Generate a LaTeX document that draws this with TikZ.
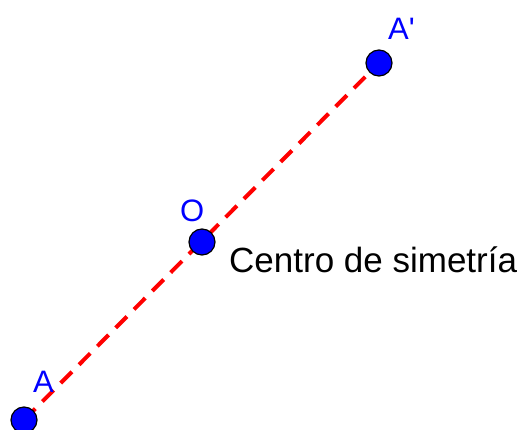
\documentclass[tikz,border=0pt]{standalone}
\usepackage{fontspec}
\setmainfont{Liberation Sans}
\usetikzlibrary{positioning}

\begin{document}
\begin{tikzpicture}[
    x=1pt, y=1pt,
    pt/.style={draw=black, line width=1.2pt, circle, fill=blue, minimum size=26pt, inner sep=0pt},
    lab/.style={anchor=base west, inner sep=0pt, text=blue, font=\fontsize{31}{31}\selectfont},
    seg/.style={red, line width=4pt, dash pattern=on 16pt off 10pt}
]
\useasboundingbox (0,0) rectangle (517,429);
\clip (0,0) rectangle (517,429);
\coordinate (a) at (24,9);
\coordinate (o) at (202,187);
\coordinate (ap) at (379,366);
\draw[seg] (a) -- (ap);
\node[pt] (A) at (a) {};
\node[pt] (O) at (o) {};
\node[pt] (Ap) at (ap) {};
\node[lab] (labA) at (33,37) {A};
\node[lab] (labO) at (180,207) {O};
\node[lab] (labAp) at (388,389) {A\textquotesingle};
\node[anchor=base west, inner sep=0pt, font=\fontsize{35}{35}\selectfont] (centro) at (229,157) {Centro de simetría};
\end{tikzpicture}
\end{document}
